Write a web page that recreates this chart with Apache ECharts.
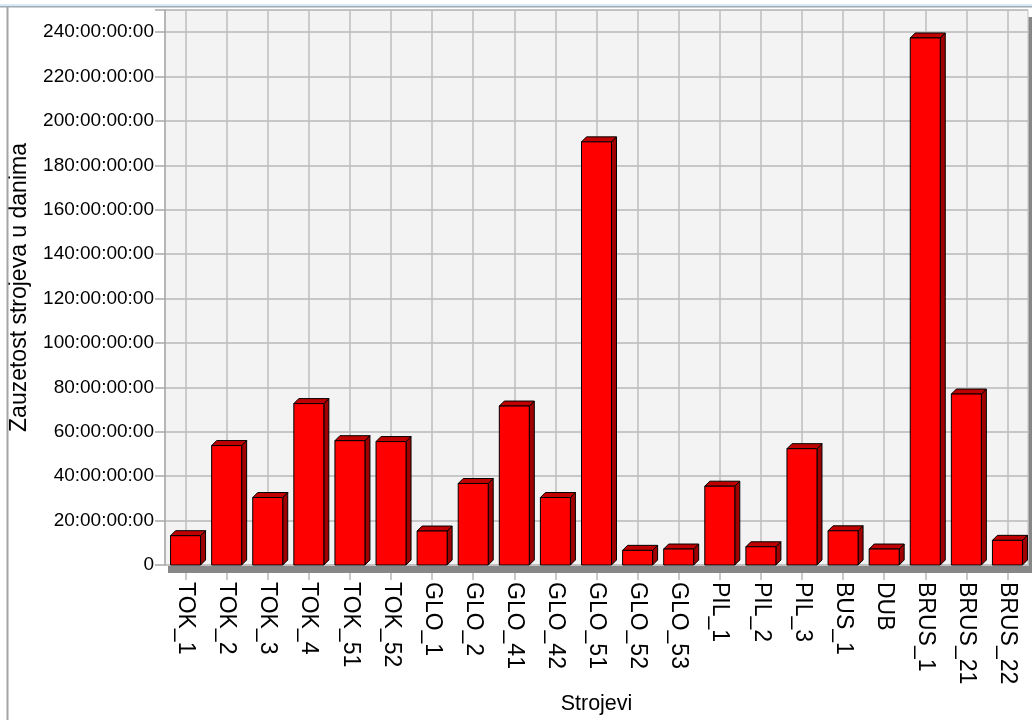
<!DOCTYPE html>
<html>
<head>
<meta charset="utf-8">
<script src="https://cdn.jsdelivr.net/npm/echarts@6/dist/echarts.min.js"></script>
<style>
html,body{margin:0;padding:0;background:#fff;}
#chart{width:1032px;height:720px;}
</style>
</head>
<body>
<div id="chart"></div>
<script>
// Data (days of machine occupation)
const categories = ['TOK_1','TOK_2','TOK_3','TOK_4','TOK_51','TOK_52','GLO_1','GLO_2','GLO_41','GLO_42','GLO_51','GLO_52','GLO_53','PIL_1','PIL_2','PIL_3','BUS_1','DUB','BRUS_1','BRUS_21','BRUS_22'];
const values = [13.2, 53.8, 30.4, 72.7, 56.0, 55.6, 15.3, 36.7, 71.6, 30.4, 190.6, 6.6, 7.2, 35.5, 8.2, 52.4, 15.4, 7.2, 237.4, 77.0, 11.1];
const yMax = 250;
const yStep = 20;
const xTitle = 'Strojevi';
const yTitle = 'Zauzetost strojeva u danima';

const FONT = '"Liberation Sans", Arial, sans-serif';
const chart = echarts.init(document.getElementById('chart'), null, {renderer: 'canvas'});

const depth = 5;
function renderBar(params, api) {
  const idx = api.value(0);
  const v = api.value(1);
  const top = api.coord([idx, v]);
  const base = api.coord([idx, 0]);
  const bw = api.size([1, 0])[0] * 0.73;
  const x0 = top[0] - bw / 2, x1 = top[0] + bw / 2;
  const yt = top[1], yb = base[1];
  return {
    type: 'group',
    children: [
      {type: 'polygon', shape: {points: [[x1, yt], [x1 + depth, yt - depth], [x1 + depth, yb - depth], [x1, yb]]},
        style: {fill: '#A00000', stroke: '#000', lineWidth: 1}},
      {type: 'polygon', shape: {points: [[x0, yt], [x0 + depth, yt - depth], [x1 + depth, yt - depth], [x1, yt]]},
        style: {fill: '#C00000', stroke: '#000', lineWidth: 1}},
      {type: 'rect', shape: {x: x0, y: yt, width: bw, height: yb - yt},
        style: {fill: '#FF0000', stroke: '#000', lineWidth: 1}}
    ]
  };
}

const option = {
  animation: false,
  backgroundColor: '#ffffff',
  textStyle: {fontFamily: FONT, color: '#000'},
  grid: {left: 163, right: 4, top: 10, bottom: 155, show: true, backgroundColor: '#F3F3F3', borderColor: '#C2C2C2', borderWidth: 1},
  xAxis: {
    type: 'category',
    data: categories,
    name: xTitle,
    nameLocation: 'middle',
    nameGap: 128,
    nameTextStyle: {fontSize: 21.5, fontFamily: FONT, color: '#000'},
    axisLine: {show: false},
    axisTick: {show: true, alignWithLabel: true, length: 15, lineStyle: {color: '#B8B8B8', width: 1.5}},
    splitLine: {show: true, alignWithLabel: true, lineStyle: {color: '#BEBEBE', width: 1.5}},
    axisLabel: {rotate: -90, fontSize: 23, fontFamily: FONT, color: '#000', margin: 17, interval: 0}
  },
  yAxis: {
    type: 'value',
    min: 0,
    max: yMax,
    interval: yStep,
    name: yTitle,
    nameLocation: 'middle',
    nameGap: 134,
    nameTextStyle: {fontSize: 23, fontFamily: FONT, color: '#000'},
    axisLine: {show: true, lineStyle: {color: '#A8A8A8', width: 1.5}},
    axisTick: {show: true, length: 10, lineStyle: {color: '#A8A8A8', width: 1.5}},
    splitLine: {show: true, lineStyle: {color: '#B8B8B8', width: 1.5}},
    axisLabel: {fontSize: 19, fontFamily: FONT, color: '#000', margin: 11,
      formatter: function (v) { if (v === 0) return '0'; if (v % yStep !== 0) return ''; return v + ':00:00:00'; }}
  },
  graphic: {
    elements: [
      {type: 'rect', z: 100, shape: {x: 0, y: 4, width: 1032, height: 2}, style: {fill: '#D8EAF4'}},
      {type: 'rect', z: 100, shape: {x: 0, y: 6, width: 1032, height: 1.5}, style: {fill: '#9EAAB4'}},
      {type: 'rect', z: 100, shape: {x: 6.5, y: 7, width: 2, height: 713}, style: {fill: '#A4A4A4'}},
      {type: 'rect', z: 100, shape: {x: 168, y: 566, width: 864, height: 7}, style: {fill: '#878787'}},
      {type: 'rect', z: 100, shape: {x: 1028.5, y: 17, width: 3.5, height: 556}, style: {fill: '#878787'}}
    ]
  },
  series: [{
    type: 'custom',
    renderItem: renderBar,
    data: values.map((v, i) => [i, v]),
    encode: {x: 0, y: 1},
    z: 5
  }]
};
chart.setOption(option);
</script>
</body>
</html>
